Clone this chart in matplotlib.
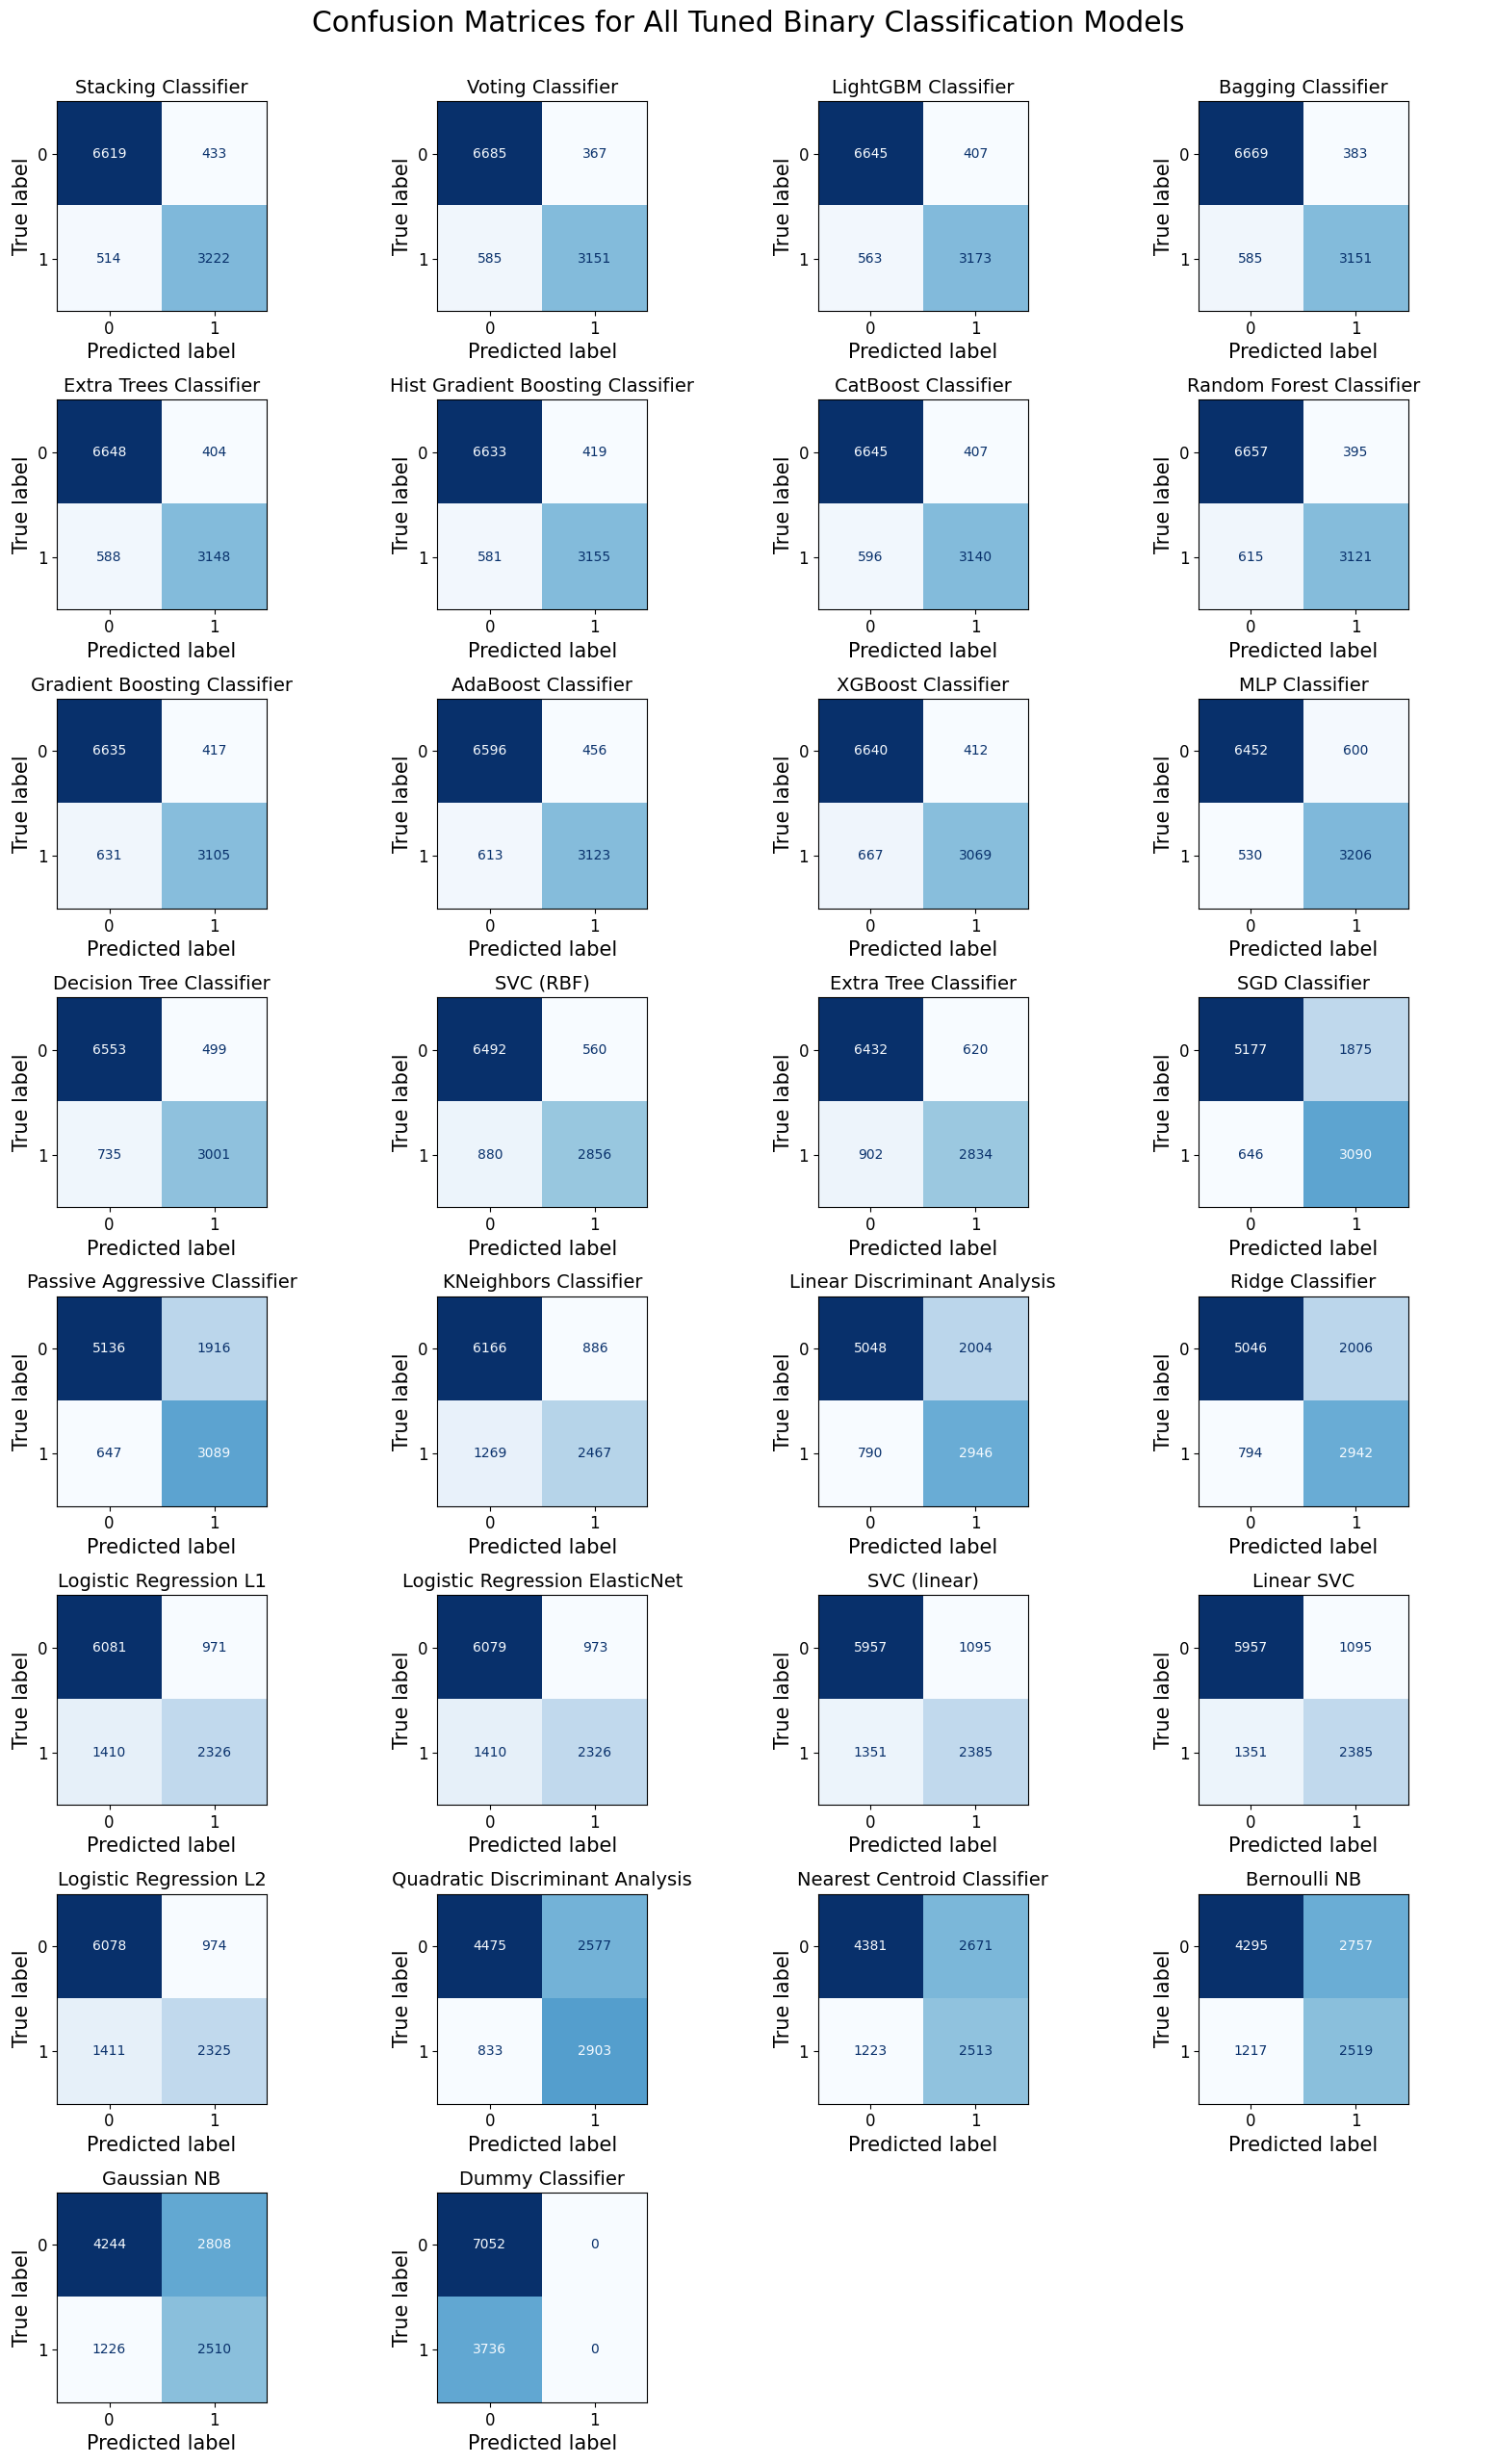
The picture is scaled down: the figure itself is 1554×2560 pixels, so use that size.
import numpy as np
import matplotlib
matplotlib.use("Agg")
import matplotlib.pyplot as plt

# model names, in the order they appear (row by row)
model_names = [
    "Stacking Classifier", "Voting Classifier", "LightGBM Classifier", "Bagging Classifier",
    "Extra Trees Classifier", "Hist Gradient Boosting Classifier", "CatBoost Classifier", "Random Forest Classifier",
    "Gradient Boosting Classifier", "AdaBoost Classifier", "XGBoost Classifier", "MLP Classifier",
    "Decision Tree Classifier", "SVC (RBF)", "Extra Tree Classifier", "SGD Classifier",
    "Passive Aggressive Classifier", "KNeighbors Classifier", "Linear Discriminant Analysis", "Ridge Classifier",
    "Logistic Regression L1", "Logistic Regression ElasticNet", "SVC (linear)", "Linear SVC",
    "Logistic Regression L2", "Quadratic Discriminant Analysis", "Nearest Centroid Classifier", "Bernoulli NB",
    "Gaussian NB", "Dummy Classifier",
]

# confusion matrix cells
tn = [6619, 6685, 6645, 6669, 6648, 6633, 6645, 6657, 6635, 6596, 6640, 6452, 6553, 6492, 6432,
      5177, 5136, 6166, 5048, 5046, 6081, 6079, 5957, 5957, 6078, 4475, 4381, 4295, 4244, 7052]
fp = [433, 367, 407, 383, 404, 419, 407, 395, 417, 456, 412, 600, 499, 560, 620,
      1875, 1916, 886, 2004, 2006, 971, 973, 1095, 1095, 974, 2577, 2671, 2757, 2808, 0]
fn = [514, 585, 563, 585, 588, 581, 596, 615, 631, 613, 667, 530, 735, 880, 902,
      646, 647, 1269, 790, 794, 1410, 1410, 1351, 1351, 1411, 833, 1223, 1217, 1226, 3736]
tp = [3222, 3151, 3173, 3151, 3148, 3155, 3140, 3121, 3105, 3123, 3069, 3206, 3001, 2856, 2834,
      3090, 3089, 2467, 2946, 2942, 2326, 2326, 2385, 2385, 2325, 2903, 2513, 2519, 2510, 0]

class_labels = ["0", "1"]

W, H = 1554, 2560
fig, axes = plt.subplots(8, 4, figsize=(W / 100, H / 100), dpi=100)
# pixel layout: square axes ~218 px, columns 59..1463, rows 105..2496
fig.subplots_adjust(left=59 / W, right=1463 / W, top=1 - 105 / H, bottom=1 - 2496 / H,
                    wspace=177.3 / 218, hspace=92.4 / 218)

cmap = plt.get_cmap("Blues")
for i, ax in enumerate(axes.flat):
    if i >= len(model_names):
        ax.axis("off")
        continue
    cm = np.array([[tn[i], fp[i]], [fn[i], tp[i]]])
    ax.imshow(cm, cmap=cmap, interpolation="nearest")
    thresh = (cm.max() + cm.min()) / 2.0
    for r in range(2):
        for c in range(2):
            color = cmap(1.0) if cm[r, c] < thresh else cmap(0.0)
            ax.text(c, r, str(cm[r, c]), ha="center", va="center", color=color, fontsize=10)
    ax.set_xticks([0, 1])
    ax.set_yticks([0, 1])
    ax.set_xticklabels(class_labels, fontsize=12)
    ax.set_yticklabels(class_labels, fontsize=12)
    ax.set_xlabel("Predicted label", fontsize=15)
    ax.set_ylabel("True label", fontsize=15)
    ax.set_title(model_names[i], fontsize=14)

fig.suptitle("Confusion Matrices for All Tuned Binary Classification Models",
             fontsize=21.5, y=1 - 10 / H, va="top")

fig.savefig("out.png", dpi=100)
